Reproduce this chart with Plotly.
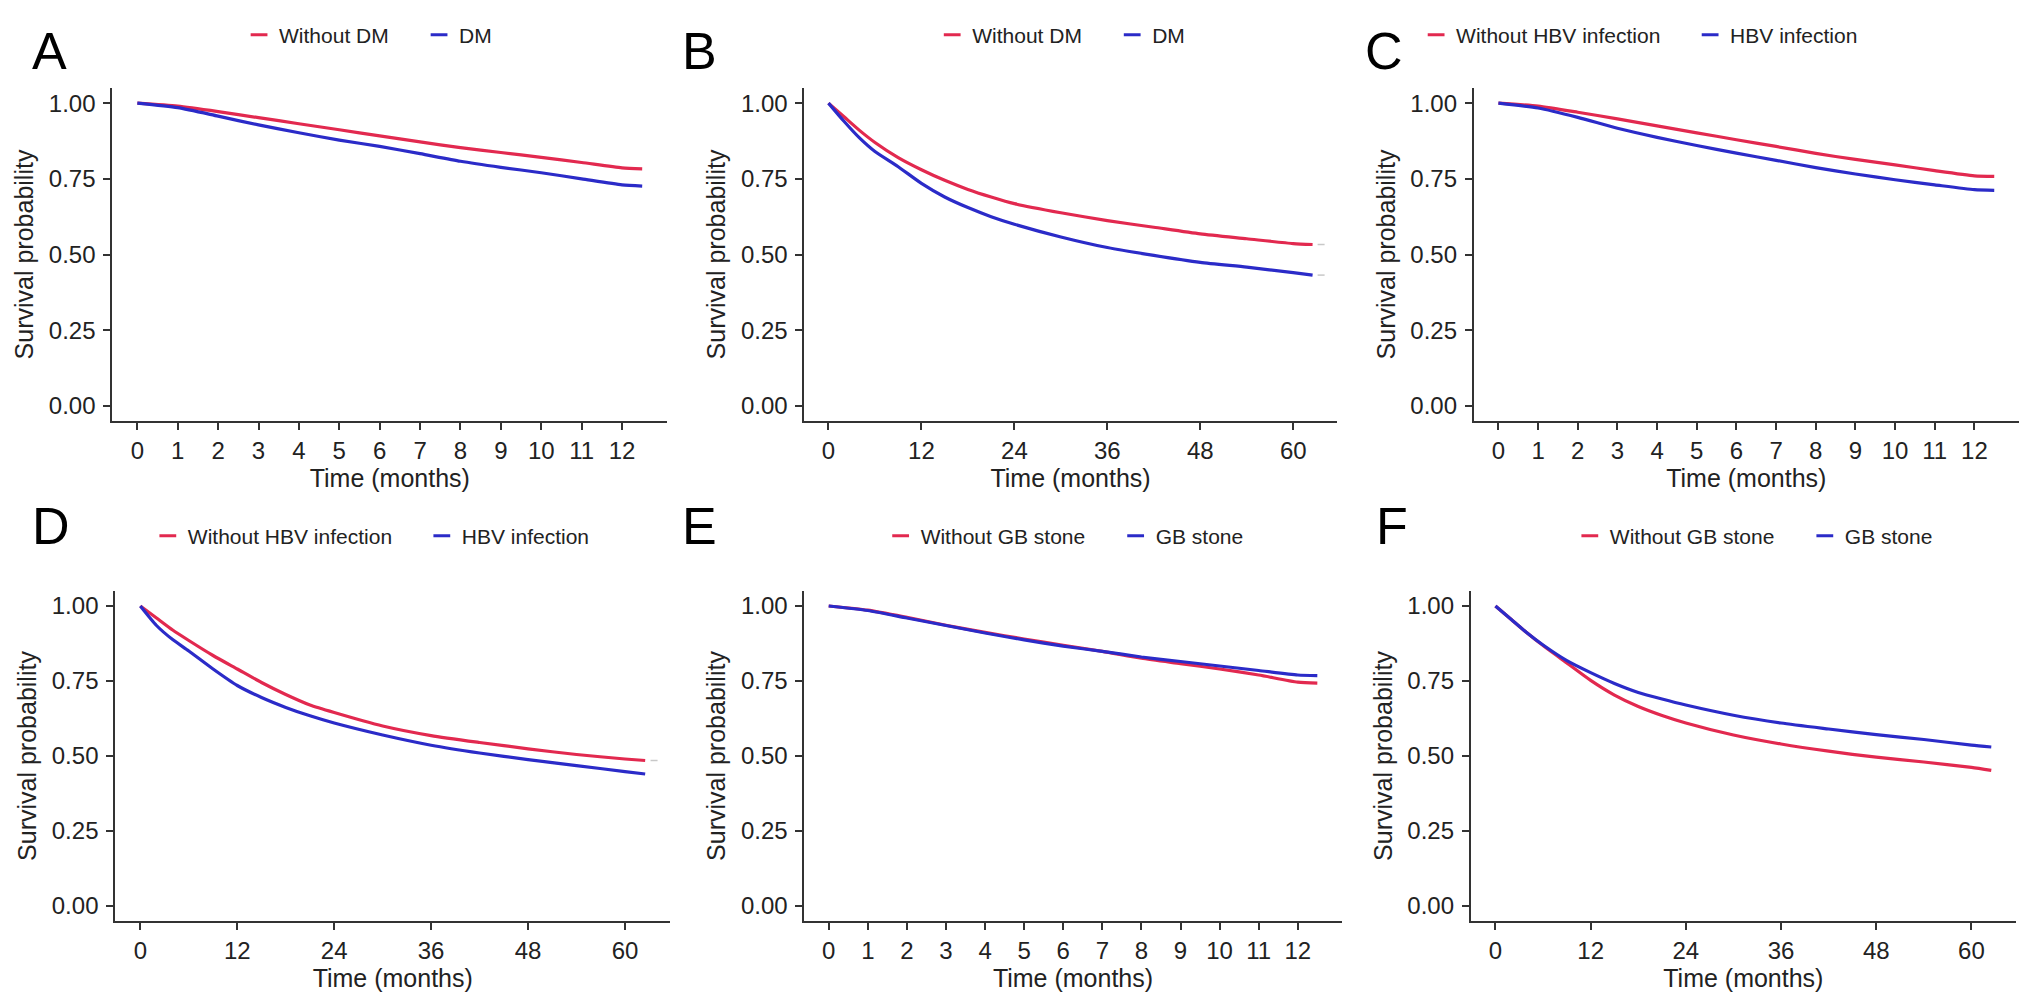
import plotly.graph_objects as go

W, H = 2032, 997
FONT = "Liberation Sans, Arial, sans-serif"
RED = "#E2294F"
BLUE = "#2B2BC8"
AX = "#333333"

# ---------------- data ----------------
t_short = [0, 1, 2, 3, 4, 5, 6, 7, 8, 9, 10, 11, 12, 12.5]
t_long = [0, 2, 4, 6, 9, 12, 15, 18, 21, 24, 30, 36, 42, 48, 54, 60, 62.5]

a_without_dm = [1.00, 0.990, 0.972, 0.952, 0.932, 0.912, 0.892, 0.872, 0.853, 0.837, 0.821, 0.804, 0.786, 0.783]
a_dm = [1.00, 0.985, 0.957, 0.928, 0.902, 0.878, 0.857, 0.833, 0.808, 0.788, 0.770, 0.750, 0.730, 0.726]

b_without_dm = [1.00, 0.955, 0.910, 0.870, 0.820, 0.780, 0.745, 0.715, 0.690, 0.668, 0.638, 0.612, 0.590, 0.568, 0.552, 0.536, 0.533]
b_dm = [1.00, 0.940, 0.885, 0.840, 0.790, 0.735, 0.690, 0.655, 0.625, 0.600, 0.558, 0.523, 0.497, 0.474, 0.458, 0.440, 0.432]

c_without_hbv = [1.00, 0.990, 0.970, 0.948, 0.925, 0.902, 0.879, 0.857, 0.834, 0.814, 0.796, 0.777, 0.760, 0.758]
c_hbv = [1.00, 0.984, 0.953, 0.917, 0.887, 0.860, 0.835, 0.811, 0.787, 0.766, 0.747, 0.730, 0.714, 0.712]

d_without_hbv = [1.00, 0.960, 0.920, 0.885, 0.835, 0.790, 0.745, 0.705, 0.670, 0.645, 0.600, 0.568, 0.545, 0.524, 0.505, 0.490, 0.485]
d_hbv = [1.00, 0.935, 0.888, 0.850, 0.790, 0.735, 0.695, 0.662, 0.634, 0.610, 0.570, 0.536, 0.510, 0.488, 0.468, 0.448, 0.440]

e_without_gb = [1.00, 0.986, 0.962, 0.936, 0.912, 0.890, 0.869, 0.849, 0.826, 0.808, 0.790, 0.770, 0.746, 0.743]
e_gb = [1.00, 0.985, 0.960, 0.935, 0.910, 0.887, 0.866, 0.849, 0.830, 0.815, 0.800, 0.785, 0.770, 0.768]

f_without_gb = [1.00, 0.955, 0.910, 0.868, 0.810, 0.752, 0.703, 0.665, 0.635, 0.610, 0.570, 0.540, 0.516, 0.496, 0.480, 0.462, 0.452]
f_gb = [1.00, 0.955, 0.910, 0.870, 0.818, 0.778, 0.742, 0.712, 0.690, 0.670, 0.636, 0.610, 0.590, 0.571, 0.555, 0.536, 0.530]

# faint censor marks just past the end of some curves
b_censor_t = [63.6, 63.6]
b_censor_s = [0.533, 0.432]
d_censor_t = [63.6]
d_censor_s = [0.485]

short_ticks = list(range(0, 13))
long_ticks = [0, 12, 24, 36, 48, 60]
y_ticks = [0, 0.25, 0.5, 0.75, 1.0]
y_tick_text = ["0.00", "0.25", "0.50", "0.75", "1.00"]

panels = [
    dict(letter="A", t=t_short, s1=a_without_dm, s2=a_dm, n1="Without DM", n2="DM", ticks=short_ticks, T=12.5),
    dict(letter="B", t=t_long, s1=b_without_dm, s2=b_dm, n1="Without DM", n2="DM", ticks=long_ticks, T=62.5,
         ct=b_censor_t, cs=b_censor_s),
    dict(letter="C", t=t_short, s1=c_without_hbv, s2=c_hbv, n1="Without HBV infection", n2="HBV infection", ticks=short_ticks, T=12.5),
    dict(letter="D", t=t_long, s1=d_without_hbv, s2=d_hbv, n1="Without HBV infection", n2="HBV infection", ticks=long_ticks, T=62.5,
         ct=d_censor_t, cs=d_censor_s),
    dict(letter="E", t=t_short, s1=e_without_gb, s2=e_gb, n1="Without GB stone", n2="GB stone", ticks=short_ticks, T=12.5),
    dict(letter="F", t=t_long, s1=f_without_gb, s2=f_gb, n1="Without GB stone", n2="GB stone", ticks=long_ticks, T=62.5),
]

# ---------------- layout geometry (pixels) ----------------
xpix = [(105, 665), (803, 1340), (1478, 2028), (108, 668), (803, 1345), (1475, 2025)]
ypix = [(80, 413)] * 3 + [(583, 913)] * 3
letter_pos = [(22, 43), (678, 43), (1366, 43), (22, 518), (678, 518), (1378, 518)]
legend_pos = [(233, 27), (932, 27), (1420, 27), (141, 528), (880, 528), (1575, 528)]
legend_entry_w = [135, 135, 229, 229, 190, 190]

fig = go.Figure()
layout = dict(
    width=W, height=H,
    margin=dict(l=0, r=0, t=0, b=0),
    paper_bgcolor="white", plot_bgcolor="white",
    font=dict(family=FONT, color="#222222"),
    showlegend=True,
)

annotations = []
for i, p in enumerate(panels):
    k = i + 1
    xa = "x" if k == 1 else f"x{k}"
    ya = "y" if k == 1 else f"y{k}"
    lg = "legend" if k == 1 else f"legend{k}"
    x0, x1 = xpix[i]
    y0, y1 = ypix[i]
    T = p["T"]
    for s, c in ((p["s1"], RED), (p["s2"], BLUE)):
        fig.add_trace(go.Scatter(x=p["t"], y=s, mode="lines",
                                 line=dict(color=c, width=3.2, shape="spline", smoothing=0.6),
                                 xaxis=xa, yaxis=ya, showlegend=False, hoverinfo="skip"))
    if "ct" in p:
        fig.add_trace(go.Scatter(x=p["ct"], y=p["cs"], mode="markers",
                                 marker=dict(symbol="line-ew-open", size=5, color="#C8C8C8",
                                             line=dict(color="#C8C8C8", width=1.5)),
                                 xaxis=xa, yaxis=ya, showlegend=False, hoverinfo="skip", cliponaxis=False))
    for n, c in ((p["n1"], RED), (p["n2"], BLUE)):
        fig.add_trace(go.Scatter(x=[None], y=[None], mode="markers", name=n,
                                 marker=dict(symbol="line-ew-open", size=12, color=c, line=dict(color=c, width=3)),
                                 xaxis=xa, yaxis=ya, legend=lg))
    axis_common = dict(showline=True, linecolor=AX, linewidth=1.6, ticks="outside", ticklen=7,
                       tickwidth=1.6, tickcolor=AX, showgrid=False, zeroline=False,
                       tickfont=dict(family=FONT, size=24, color="#222222"))
    layout["xaxis" if k == 1 else f"xaxis{k}"] = dict(
        axis_common, domain=[x0 / W, x1 / W], anchor=ya,
        range=[-0.05 * T, 1.05 * T], tickvals=p["ticks"],
        title=dict(text="Time (months)", font=dict(family=FONT, size=25, color="#222222"), standoff=6),
    )
    layout["yaxis" if k == 1 else f"yaxis{k}"] = dict(
        axis_common, domain=[1 - y1 / H, 1 - y0 / H], anchor=xa,
        range=[-0.05, 1.05], tickvals=y_ticks, ticktext=y_tick_text, ticklabelstandoff=3,
        title=dict(text="Survival probability", font=dict(family=FONT, size=25, color="#222222"), standoff=8),
    )
    lx, ly = legend_pos[i]
    layout[lg] = dict(orientation="h", x=lx / W, y=1 - ly / H, xanchor="left", yanchor="middle",
                      entrywidth=legend_entry_w[i], entrywidthmode="pixels",
                      bgcolor="rgba(0,0,0,0)", font=dict(family=FONT, size=21, color="#222222"))
    tx, ty = letter_pos[i]
    annotations.append(dict(text=p["letter"], x=tx / W, y=1 - ty / H, xref="paper", yref="paper",
                            xanchor="left", yanchor="middle", showarrow=False,
                            font=dict(family=FONT, size=52, color="black")))

layout["annotations"] = annotations
fig.update_layout(**layout)
fig.write_html("out.html")
